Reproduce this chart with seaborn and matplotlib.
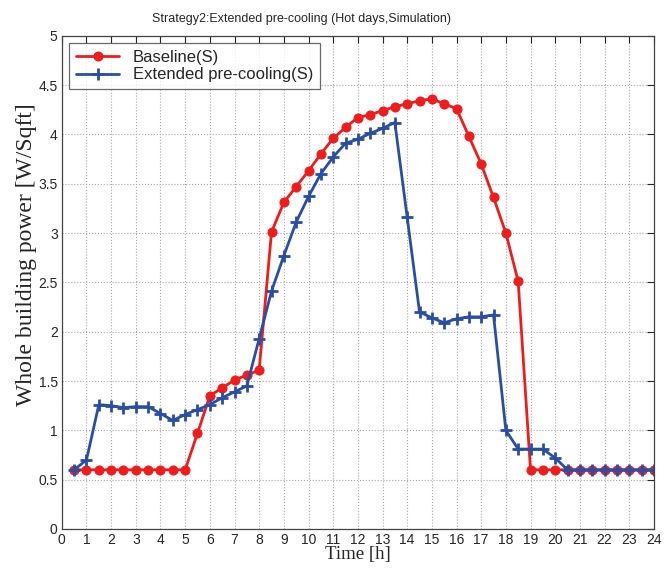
import matplotlib
matplotlib.use("Agg")
import matplotlib.pyplot as plt
import seaborn as sns
import pandas as pd

hours = [0.5, 1, 1.5, 2, 2.5, 3, 3.5, 4, 4.5, 5, 5.5, 6, 6.5, 7, 7.5, 8,
         8.5, 9, 9.5, 10, 10.5, 11, 11.5, 12, 12.5, 13, 13.5, 14, 14.5, 15, 15.5, 16,
         16.5, 17, 17.5, 18, 18.5, 19, 19.5, 20, 20.5, 21, 21.5, 22, 22.5, 23, 23.5, 24]

baseline = [0.6, 0.6, 0.6, 0.6, 0.6, 0.6, 0.6, 0.6, 0.6, 0.6, 0.97, 1.35, 1.43, 1.51, 1.56, 1.61,
            3.01, 3.31, 3.47, 3.63, 3.80, 3.96, 4.07, 4.17, 4.20, 4.24, 4.28, 4.31, 4.34, 4.36, 4.31, 4.26,
            3.98, 3.70, 3.36, 3.00, 2.51, 0.6, 0.6, 0.6, 0.6, 0.6, 0.6, 0.6, 0.6, 0.6, 0.6, 0.6]

precool = [0.6, 0.70, 1.26, 1.25, 1.23, 1.24, 1.24, 1.17, 1.10, 1.16, 1.21, 1.26, 1.33, 1.39, 1.45, 1.93,
           2.41, 2.77, 3.11, 3.37, 3.60, 3.77, 3.91, 3.95, 4.01, 4.06, 4.12, 3.16, 2.20, 2.14, 2.09, 2.13,
           2.15, 2.15, 2.17, 1.00, 0.81, 0.81, 0.81, 0.72, 0.6, 0.6, 0.6, 0.6, 0.6, 0.6, 0.6, 0.6]

x_ticks = list(range(0, 25))
y_ticks = [0, 0.5, 1, 1.5, 2, 2.5, 3, 3.5, 4, 4.5, 5]

sns.set_style("white")
plt.rcParams["font.family"] = ["Liberation Sans", "DejaVu Sans"]

df = pd.DataFrame({"hour": hours, "Baseline(S)": baseline, "Extended pre-cooling(S)": precool})

fig = plt.figure(figsize=(6.72, 5.69), dpi=100)
ax = fig.add_axes([0.092, 0.0703, 0.881, 0.867])

sns.lineplot(data=df, x="hour", y="Baseline(S)", ax=ax, color="#f01c1c", lw=2,
             marker="o", markersize=6.5, markeredgecolor="#f01c1c", label="Baseline(S)")
sns.lineplot(data=df, x="hour", y="Extended pre-cooling(S)", ax=ax, color="#2a4ea6", lw=2,
             marker="+", markersize=8, markeredgewidth=2, markeredgecolor="#2a4ea6",
             label="Extended pre-cooling(S)")

ax.set_xlim(0, 24)
ax.set_ylim(0, 5)
ax.set_xticks(x_ticks)
ax.set_yticks(y_ticks)
ax.set_xticklabels([str(t) for t in x_ticks])
ax.set_yticklabels(["0", "0.5", "1", "1.5", "2", "2.5", "3", "3.5", "4", "4.5", "5"])
ax.tick_params(direction="in", length=5, top=True, right=True, labelsize=10, pad=3)
ax.grid(True, linestyle=":", color="#a8a8a8", lw=0.8)
for s in ax.spines.values():
    s.set_color("#444444")
    s.set_linewidth(0.9)

ax.set_title("Strategy2:Extended pre-cooling (Hot days,Simulation)", fontsize=9, x=0.405, pad=10)
ax.set_xlabel("Time [h]", family="Liberation Serif", fontsize=13.5, labelpad=-1)
ax.set_ylabel("Whole building power [W/Sqft]", family="Liberation Serif", fontsize=17)
ax.yaxis.set_label_coords(-0.042, 0.556)

leg = ax.legend(loc="upper left", fontsize=12, frameon=True, fancybox=False,
                edgecolor="#444444", borderaxespad=0.45, handlelength=2.6, labelspacing=0.15)
leg.get_frame().set_linewidth(0.9)

fig.savefig("out.png", dpi=100)
